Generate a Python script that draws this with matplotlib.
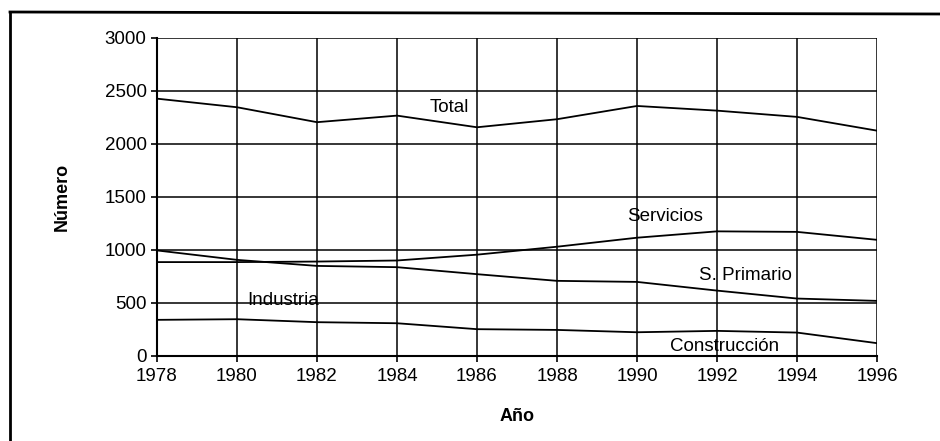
import matplotlib
matplotlib.use("Agg")
from matplotlib import pyplot as plt
from matplotlib.lines import Line2D

plt.rcParams['font.family'] = ['Liberation Sans', 'DejaVu Sans']

# datos
anios = [1978, 1980, 1982, 1984, 1986, 1988, 1990, 1992, 1994, 1996]
total = [2427, 2346, 2205, 2267, 2157, 2233, 2358, 2314, 2255, 2125]
servicios = [885, 885, 890, 900, 955, 1030, 1115, 1175, 1170, 1095]
primario = [995, 906, 849, 837, 771, 708, 698, 616, 541, 519]
construccion = [340, 346, 318, 308, 252, 245, 223, 236, 220, 120]

# etiquetas (texto, x, y)
etiquetas = [
    ('Total', 1985.3, 2340),
    ('Servicios', 1990.7, 1315),
    ('S. Primario', 1992.7, 755),
    ('Industria', 1981.15, 522),
    ('Construcción', 1992.2, 88),
]

fig = plt.figure(figsize=(9.4, 4.41), dpi=100)
ax = fig.add_axes([0.167, 0.193, 0.766, 0.721])

for serie in (total, servicios, primario, construccion):
    ax.plot(anios, serie, color='black', linewidth=1.3)

for texto, x, y in etiquetas:
    ax.text(x, y, texto, ha='center', va='center', fontsize=13.5, color='black')

ax.set_xlim(1978, 1996)
ax.set_ylim(0, 3000)
ax.set_xticks(anios)
ax.set_yticks(range(0, 3001, 500))
ax.grid(True, color='black', linewidth=1.1)
ax.set_axisbelow(True)
for s in ('top', 'right'):
    ax.spines[s].set_visible(False)
for s in ('left', 'bottom'):
    ax.spines[s].set_linewidth(1.5)
ax.tick_params(axis='both', labelsize=13.5, direction='out', length=4, width=1.2)
ax.tick_params(axis='x', pad=5)
ax.set_xlabel('Año', fontsize=13, fontweight='bold', labelpad=16)
ax.set_ylabel('Número', fontsize=13, fontweight='bold', labelpad=24)

# marco exterior
fig.add_artist(Line2D([10/940, 10/940], [0, 1 - 12/441], color='black', linewidth=2))
fig.add_artist(Line2D([10/940, 1], [1 - 12/441, 1 - 14/441], color='black', linewidth=2))

plt.savefig('out.png', dpi=100)
